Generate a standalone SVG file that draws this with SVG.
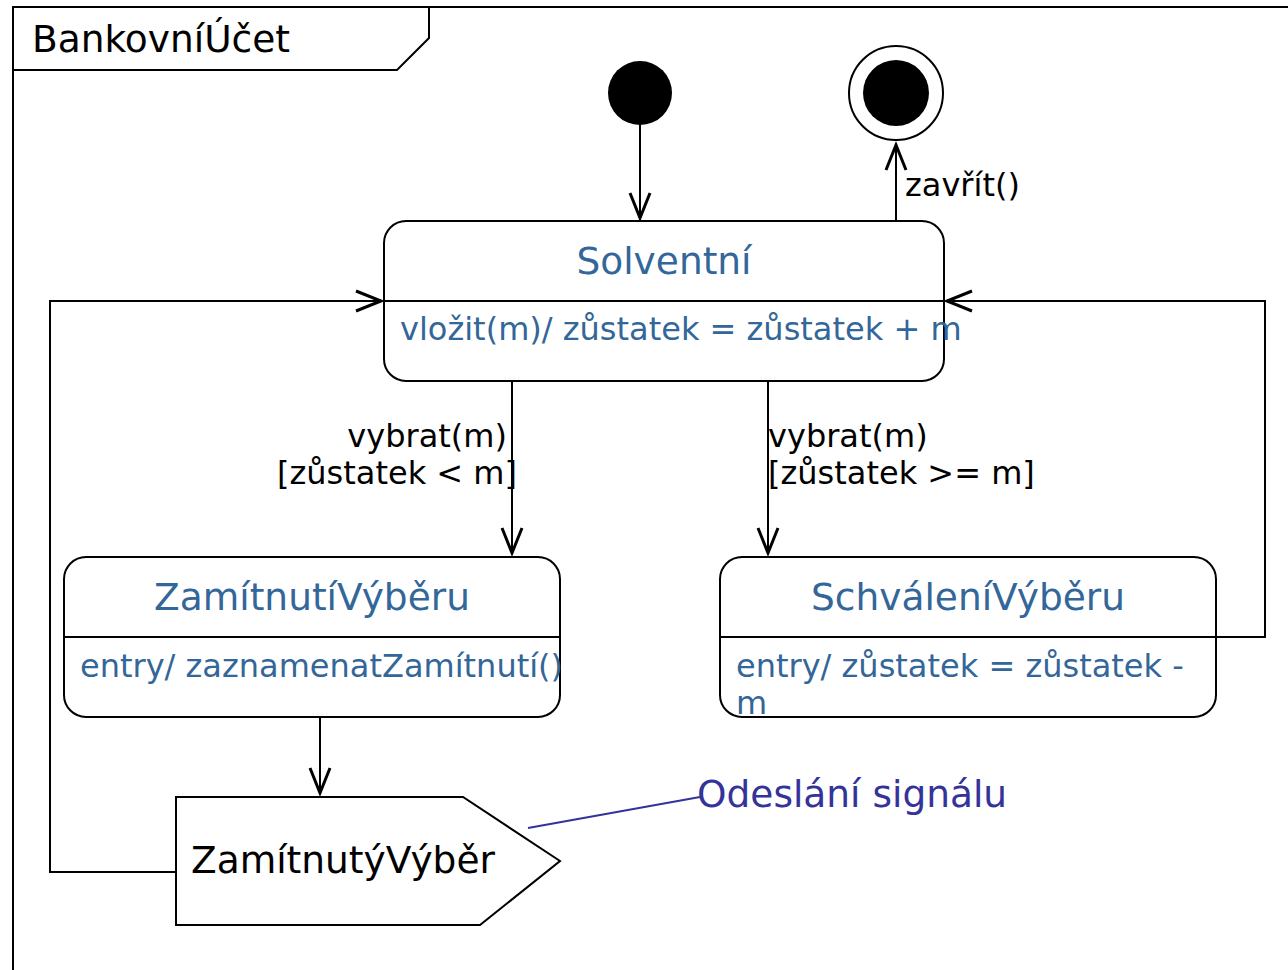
<svg xmlns="http://www.w3.org/2000/svg" width="1288" height="970" viewBox="0 0 1288 970">
<style>
text{font-family:"DejaVu Sans","Liberation Sans",sans-serif}
.box{fill:#fff;stroke:#000;stroke-width:2}
.ln{fill:none;stroke:#000;stroke-width:2}
.ah{fill:none;stroke:#000;stroke-width:3;stroke-linejoin:miter}
.st{fill:#336699;font-size:37.5px}
.bd{fill:#336699;font-size:32px}
.lb{fill:#000;font-size:32px}
.big{font-size:37.5px}
</style>
<rect width="1288" height="970" fill="#fff"/>
<g id="frame">
<path class="ln" d="M13,970 V7 H1288"/>
<path class="ln" d="M13,70 H397 L429,38 V7"/>
<text class="big" x="32" y="52" fill="#000">BankovníÚčet</text>
</g>
<g id="connectors">
<path class="ln" d="M640,125 V218"/>
<path class="ah" d="M630,193 L640,218 L650,193"/>
<path class="ln" d="M896,221 V145"/>
<path class="ah" d="M886,170 L896,145 L906,170"/>
<text class="lb" x="905" y="196">zavřít()</text>
<path class="ln" d="M512,381 V553"/>
<path class="ah" d="M502,528 L512,553 L522,528"/>
<text class="lb" x="507" y="447" text-anchor="end">vybrat(m)</text>
<text class="lb" x="517" y="484" text-anchor="end">[zůstatek &lt; m]</text>
<path class="ln" d="M768,381 V553"/>
<path class="ah" d="M758,528 L768,553 L778,528"/>
<text class="lb" x="768" y="447">vybrat(m)</text>
<text class="lb" x="768" y="484">[zůstatek &gt;= m]</text>
<path class="ln" d="M320,717 V793"/>
<path class="ah" d="M310,768 L320,793 L330,768"/>
<path class="ln" d="M176,872 H50 V301 H381"/>
<path class="ah" d="M356,291 L381,301 L356,311"/>
<path class="ln" d="M1216,637 H1265 V301 H947"/>
<path class="ah" d="M972,291 L947,301 L972,311"/>
</g>
<g id="initial">
<circle cx="640" cy="93" r="32" fill="#000"/>
</g>
<g id="final">
<circle cx="896" cy="93" r="47" fill="#fff" stroke="#000" stroke-width="2"/>
<circle cx="896" cy="93" r="33" fill="#000"/>
</g>
<g id="solventni">
<rect class="box" x="384" y="221" width="560" height="160" rx="22"/>
<path class="ln" d="M384,301 H944"/>
<text class="st" x="664" y="274" text-anchor="middle">Solventní</text>
<text class="bd" x="400" y="340">vložit(m)/ zůstatek = zůstatek + m</text>
</g>
<g id="zamitnuti">
<rect class="box" x="64" y="557" width="496" height="160" rx="22"/>
<path class="ln" d="M64,637 H560"/>
<text class="st" x="312" y="610" text-anchor="middle">ZamítnutíVýběru</text>
<text class="bd" x="80" y="677">entry/ zaznamenatZamítnutí()</text>
</g>
<g id="schvaleni">
<rect class="box" x="720" y="557" width="496" height="160" rx="22"/>
<path class="ln" d="M720,637 H1216"/>
<text class="st" x="968" y="610" text-anchor="middle">SchváleníVýběru</text>
<text class="bd" x="736" y="677">entry/ zůstatek = zůstatek -</text>
<text class="bd" x="736" y="714">m</text>
</g>
<g id="signal">
<polygon class="box" points="176,797 463,797 560,861 480,925 176,925"/>
<text class="big" x="191" y="873" fill="#000">ZamítnutýVýběr</text>
</g>
<g id="note">
<path d="M528,828 L700,797" fill="none" stroke="#333399" stroke-width="2"/>
<text class="big" x="697" y="807" fill="#333399">Odeslání signálu</text>
</g>
</svg>
